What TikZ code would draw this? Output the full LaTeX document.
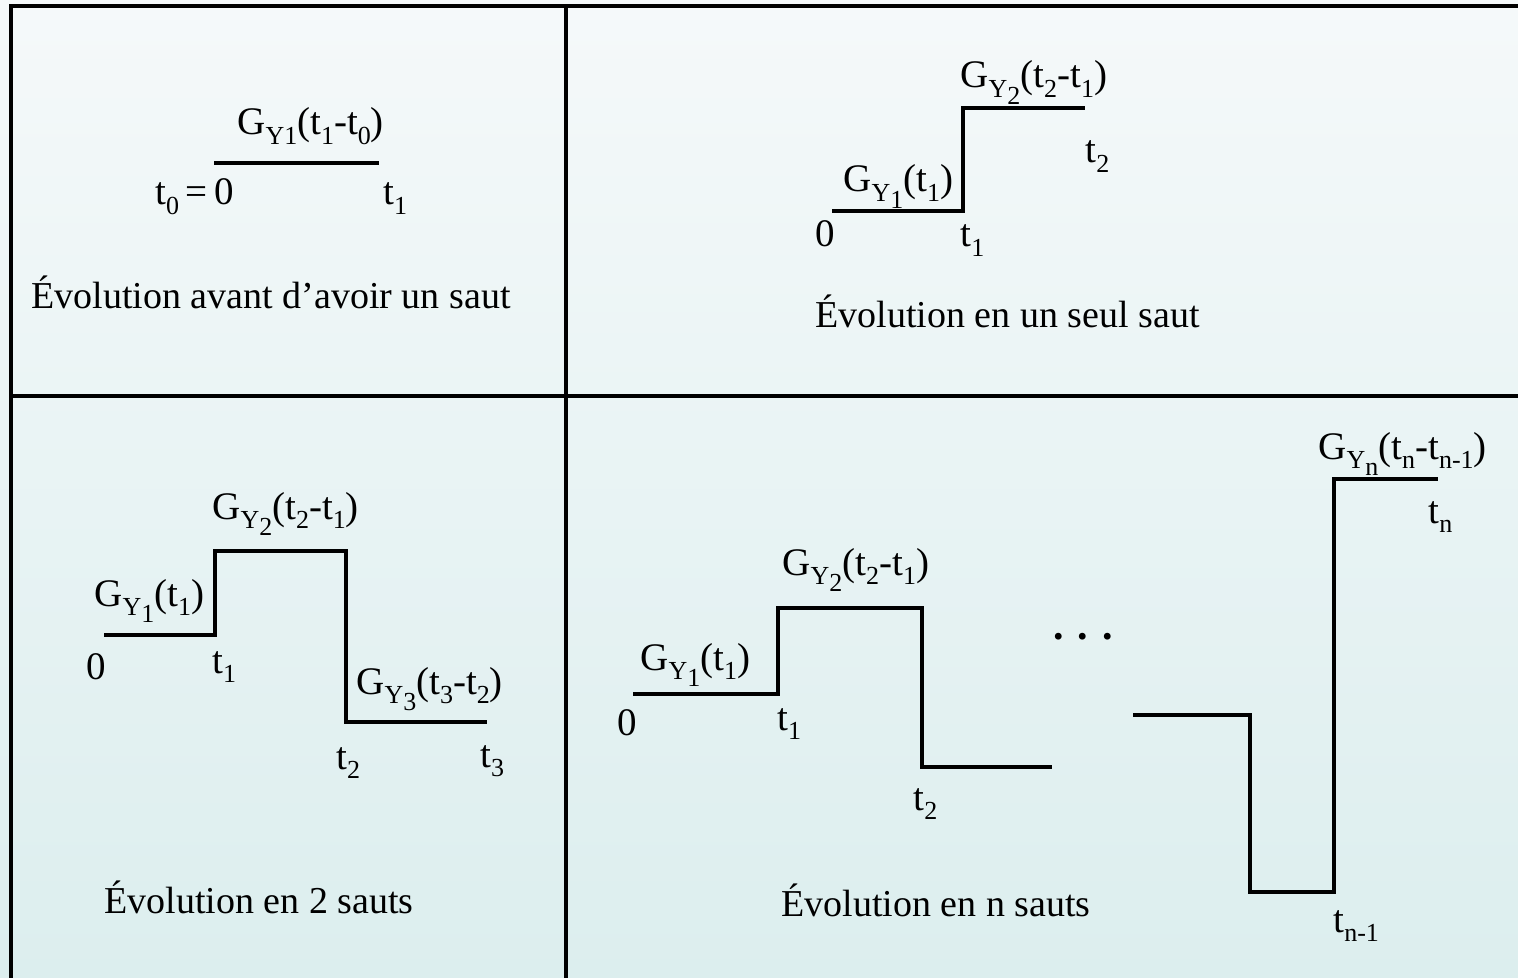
\documentclass[tikz,border=0pt]{standalone}
\usepackage{fontspec}
\setmainfont{Liberation Serif}
\usetikzlibrary{positioning}
\definecolor{bgtop}{HTML}{F5F9FA}
\definecolor{bgbot}{HTML}{DCEEEE}
\newcommand{\dn}[1]{\raisebox{-0.55ex}{\fontsize{13}{13}\selectfont #1}}
\tikzset{
  lbl/.style={inner sep=0pt, anchor=base west, font=\fontsize{19.5}{22}\selectfont},
  caption/.style={inner sep=0pt, anchor=base west, font=\fontsize{19}{22}\selectfont},
  stepline/.style={line width=1.7pt, line join=miter},
  framebox/.style={line width=2pt},
}

\begin{document}
\begin{tikzpicture}[x=0.5pt, y=-0.5pt]
  \useasboundingbox (0,0) rectangle (1518,978);
  \shade[top color=bgtop, bottom color=bgbot] (0,0) rectangle (1518,978);

  \begin{scope}
    \clip (0,0) rectangle (1518,978);
    \draw[framebox] (11,6.5) rectangle (1540,1000);
    \draw[framebox] (566,6.5) -- (566,1000);
    \draw[framebox] (11,395.5) -- (1540,395.5);
  \end{scope}

  % avant d'avoir un saut
  \draw[stepline] (214,163) -- (379,163);
  \node[lbl] (a-g1) at (237,135) {G\dn{Y1}(t\dn{1}-t\dn{0})};
  \node[lbl] (a-t0) at (155,205) {t\dn{0}\,=\,0};
  \node[lbl] (a-t1) at (383,205) {t\dn{1}};
  \node[caption] (a-cap) at (31,308) {Évolution avant d’avoir un saut};

  % un seul saut
  \draw[stepline] (832,211) -- (963,211) -- (963,108) -- (1085,108);
  \node[lbl] (b-g2) at (960,88) {G\dn{Y\dn{2}}(t\dn{2}-t\dn{1})};
  \node[lbl] (b-g1) at (843,192) {G\dn{Y\dn{1}}(t\dn{1})};
  \node[lbl] (b-0) at (815,247) {0};
  \node[lbl] (b-t1) at (960,247) {t\dn{1}};
  \node[lbl] (b-t2) at (1085,163) {t\dn{2}};
  \node[caption] (b-cap) at (815,328) {Évolution en un seul saut};

  % 2 sauts
  \draw[stepline] (104,635) -- (215,635) -- (215,551) -- (346,551)
    -- (346,722) -- (487,722);
  \node[lbl] (c-g2) at (212,519) {G\dn{Y\dn{2}}(t\dn{2}-t\dn{1})};
  \node[lbl] (c-g1) at (94,606) {G\dn{Y\dn{1}}(t\dn{1})};
  \node[lbl] (c-g3) at (356,694) {G\dn{Y\dn{3}}(t\dn{3}-t\dn{2})};
  \node[lbl] (c-0) at (86,679) {0};
  \node[lbl] (c-t1) at (212,673) {t\dn{1}};
  \node[lbl] (c-t2) at (336,769) {t\dn{2}};
  \node[lbl] (c-t3) at (480,767) {t\dn{3}};
  \node[caption] (c-cap) at (104,913) {Évolution en 2 sauts};

  % n sauts
  \draw[stepline] (633,694) -- (778,694) -- (778,608) -- (922,608)
    -- (922,767) -- (1052,767);
  \draw[stepline] (1133,715) -- (1250,715) -- (1250,892) -- (1334,892)
    -- (1334,479) -- (1438,479);
  \node[lbl] (d-g2) at (782,575) {G\dn{Y\dn{2}}(t\dn{2}-t\dn{1})};
  \node[lbl] (d-g1) at (640,670) {G\dn{Y\dn{1}}(t\dn{1})};
  \node[lbl] (d-gn) at (1318,459) {G\dn{Y\dn{n}}(t\dn{n}-t\dn{n-1})};
  \node[lbl] (d-0) at (617,735) {0};
  \node[lbl] (d-t1) at (777,730) {t\dn{1}};
  \node[lbl] (d-t2) at (913,810) {t\dn{2}};
  \node[lbl] (d-tm) at (1333,932) {t\dn{n-1}};
  \node[lbl] (d-tn) at (1428,523) {t\dn{n}};
  \node[lbl, font=\fontsize{21}{22}\selectfont\bfseries] (d-dots) at (1053,639) {. . .};
  \node[caption] (d-cap) at (781,916) {Évolution en n sauts};
\end{tikzpicture}
\end{document}
